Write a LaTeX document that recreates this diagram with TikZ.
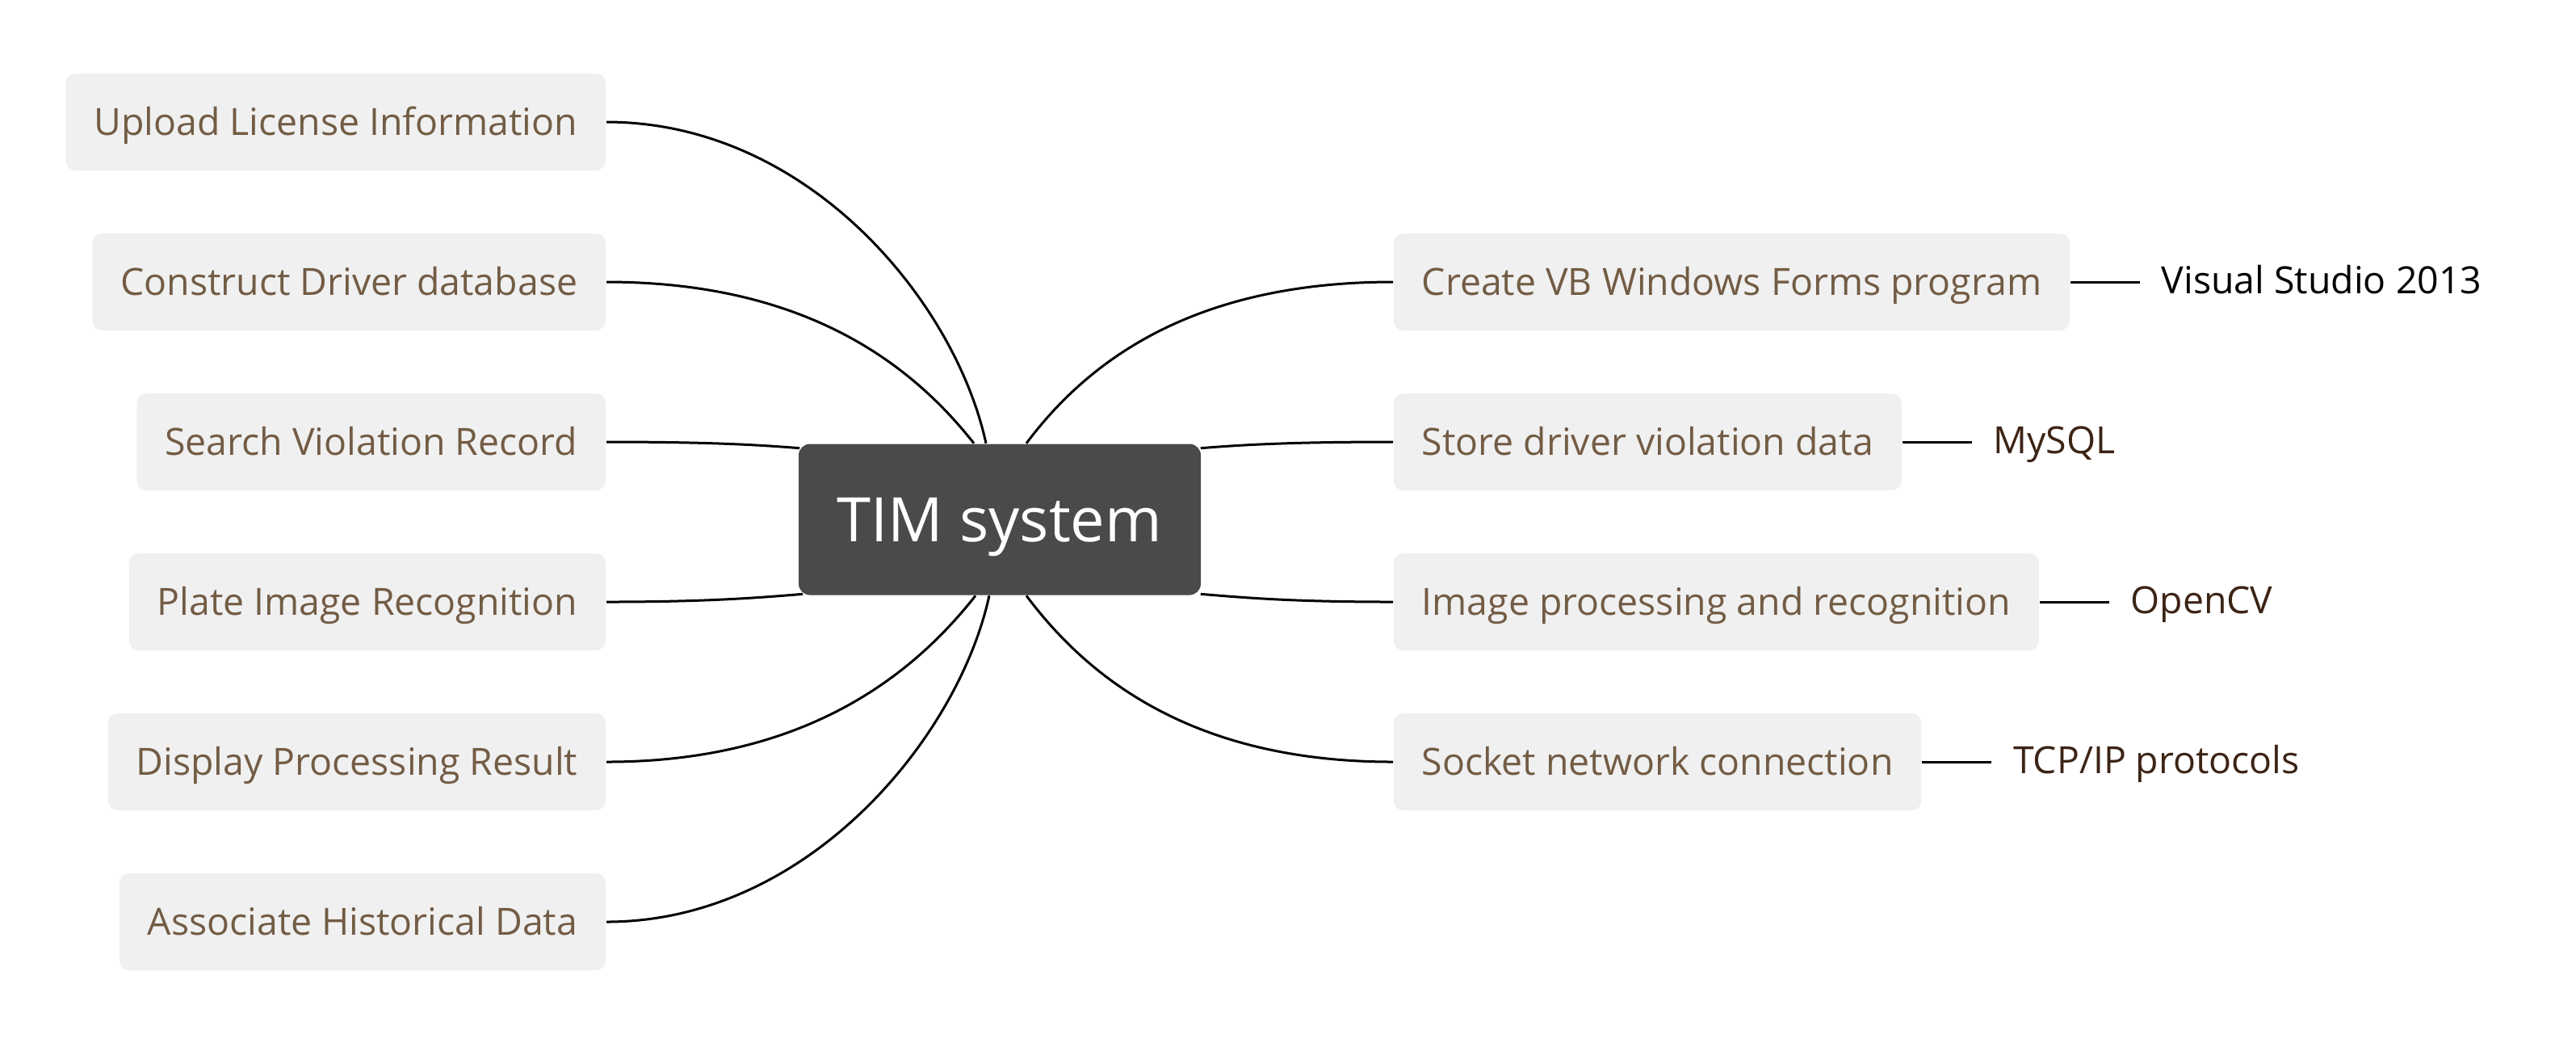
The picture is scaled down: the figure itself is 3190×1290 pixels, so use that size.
\documentclass[tikz,border=0pt]{standalone}
\usepackage{fontspec}
\setmainfont{Open Sans}
\usetikzlibrary{calc}
\definecolor{boxgray}{HTML}{F0F0F0}
\definecolor{leafbrown}{HTML}{735C45}
\definecolor{labbrown}{HTML}{3C2415}
\definecolor{rootgray}{HTML}{4A4A4A}
\tikzset{
  leafbox/.style={fill=boxgray, rounded corners=3pt, text=leafbrown,
    font=\fontsize{11.6}{14}\selectfont, minimum height=30pt, inner xsep=8.75pt, inner ysep=0pt,
    text height=8.3pt, text depth=0pt},
  rootbox/.style={fill=rootgray, rounded corners=3.5pt, text=white,
    font=\fontsize{19}{23}\selectfont, minimum width=124.5pt, minimum height=46.75pt, inner sep=0pt,
    text height=13.6pt, text depth=0pt},
  techlabel/.style={anchor=west, inner sep=0pt, font=\fontsize{11.6}{14}\selectfont,
    text height=8.3pt, text depth=0pt},
  conn/.style={line width=0.75pt, black}
}
\begin{document}
\begin{tikzpicture}[x=0.25pt,y=-0.25pt]
\useasboundingbox (0,0) rectangle (3190,1290);
% root
\node[rootbox] (tim) at (1238,643) {TIM system};
% left boxes
\node[leafbox, anchor=east] (up)  at (751,151)  {Upload License Information};
\node[leafbox, anchor=east] (con) at (751,349)  {Construct Driver database};
\node[leafbox, anchor=east] (sea) at (751,547)  {Search Violation Record};
\node[leafbox, anchor=east] (pla) at (751,745)  {Plate Image Recognition};
\node[leafbox, anchor=east] (dis) at (751,943)  {Display Processing Result};
\node[leafbox, anchor=east] (ass) at (751,1141) {Associate Historical Data};
% right boxes
\node[leafbox, anchor=west] (cre) at (1725,349) {Create VB Windows Forms program};
\node[leafbox, anchor=west] (sto) at (1725,547) {Store driver violation data};
\node[leafbox, anchor=west] (img) at (1725,745) {Image processing and recognition};
\node[leafbox, anchor=west] (soc) at (1725,943) {Socket network connection};
% tech labels
\node[techlabel, text=black]    (vs)  at ($(cre.east)+(112,-2)$) {Visual Studio 2013};
\node[techlabel, text=labbrown] (sql) at ($(sto.east)+(112,-2)$) {MySQL};
\node[techlabel, text=labbrown] (cv)  at ($(img.east)+(112,-2)$) {OpenCV};
\node[techlabel, text=labbrown] (tcp) at ($(soc.east)+(112,-2)$) {TCP/IP protocols};
% left connectors
\draw[conn] (up.east)  .. controls +(250,0) and +(-38,-175) .. ($(tim.north)+(-17,0)$);
\draw[conn] (con.east) .. controls +(250,0) and +(-75,-95)  .. ($(tim.north)+(-32,0)$);
\draw[conn] (sea.east) .. controls +(130,0) and +(-50,-4)   .. ($(tim.north west)+(2,6)$);
\draw[conn] (pla.east) .. controls +(130,0) and +(-50,4)    .. ($(tim.south west)+(6,-2)$);
\draw[conn] (dis.east) .. controls +(250,0) and +(-75,95)   .. ($(tim.south)+(-30,0)$);
\draw[conn] (ass.east) .. controls +(250,0) and +(-38,175)  .. ($(tim.south)+(-13,0)$);
% right connectors
\draw[conn] (cre.west) .. controls +(-250,0) and +(75,-100) .. ($(tim.north)+(33,0)$);
\draw[conn] (sto.west) .. controls +(-130,0) and +(50,-4)   .. ($(tim.north east)+(-1,6)$);
\draw[conn] (img.west) .. controls +(-130,0) and +(50,4)    .. ($(tim.south east)+(-1,-2)$);
\draw[conn] (soc.west) .. controls +(-250,0) and +(75,100)  .. ($(tim.south)+(33,0)$);
% tech connectors
\draw[conn] (cre.east) -- ($(vs.west)+(-26,2)$);
\draw[conn] (sto.east) -- ($(sql.west)+(-26,2)$);
\draw[conn] (img.east) -- ($(cv.west)+(-26,2)$);
\draw[conn] (soc.east) -- ($(tcp.west)+(-26,2)$);
\end{tikzpicture}
\end{document}
